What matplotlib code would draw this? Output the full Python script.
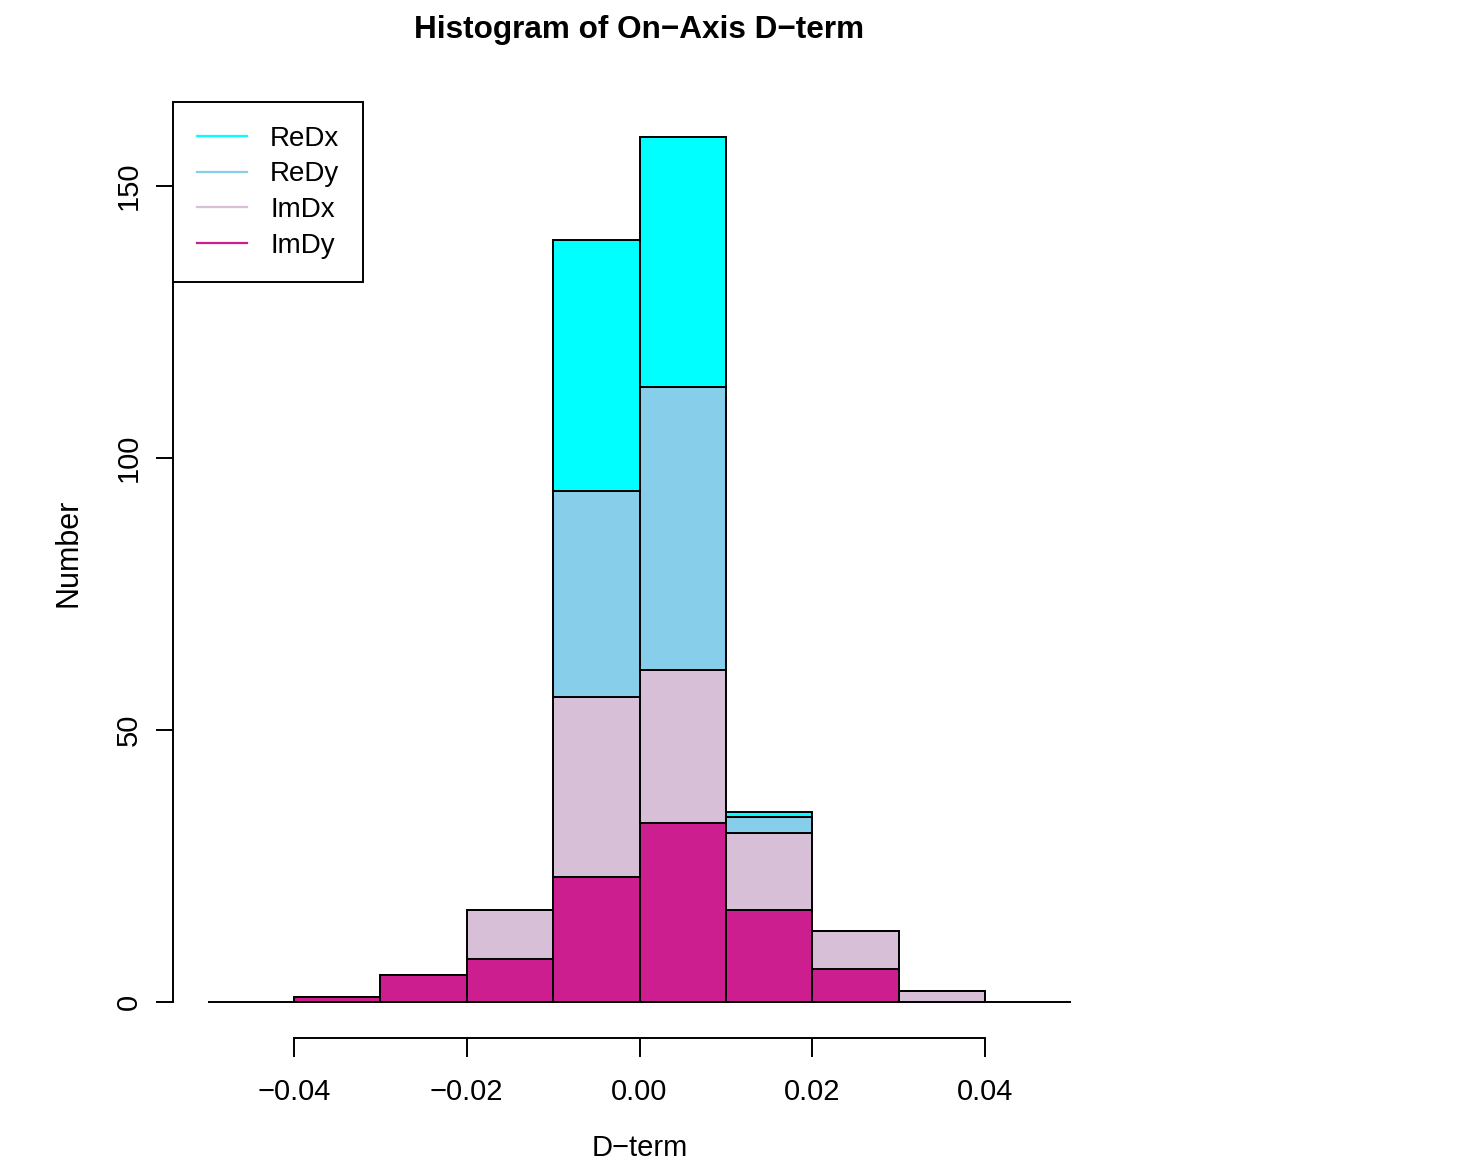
import numpy as np
import matplotlib.pyplot as plt
from matplotlib.lines import Line2D

# histogram bin edges and stacked counts per bin (D-term components)
bin_edges = np.round(np.arange(-0.04, 0.0401, 0.01), 3)
im_dy = [1, 5, 8, 23, 33, 17, 6, 0]
im_dx = [0, 0, 9, 33, 28, 14, 7, 2]
re_dy = [0, 0, 0, 38, 52, 3, 0, 0]
re_dx = [0, 0, 0, 46, 46, 1, 0, 0]

series = [("ImDy", im_dy, "#CC1E8E"),
          ("ImDx", im_dx, "#D8BFD8"),
          ("ReDy", re_dy, "#87CEEB"),
          ("ReDx", re_dx, "#00FFFF")]

xlim = (-0.05, 0.05)
ylim = (0, 165)
xticks = [-0.04, -0.02, 0.00, 0.02, 0.04]
yticks = [0, 50, 100, 150]

plt.rcParams["font.family"] = ["Liberation Sans", "DejaVu Sans"]

fig = plt.figure(figsize=(14.62, 11.70), dpi=100)
W, H = 1462, 1170
left, right, top, bottom = 173, 1106, 68.5, 1038
ax = fig.add_axes([left / W, 1 - bottom / H, (right - left) / W, (bottom - top) / H])

# R-style 4% axis padding
dx = 0.04 * (xlim[1] - xlim[0])
dy = 0.04 * (ylim[1] - ylim[0])
ax.set_xlim(xlim[0] - dx, xlim[1] + dx)
ax.set_ylim(ylim[0] - dy, ylim[1] + dy)

widths = np.diff(bin_edges)
base = np.zeros(len(widths))
for name, counts, color in series:
    counts = np.array(counts, dtype=float)
    ax.bar(bin_edges[:-1], counts, width=widths, bottom=base, align="edge",
           color=color, edgecolor="black", linewidth=1.4, zorder=3)
    base += counts

ax.hlines(0, xlim[0], xlim[1], color="black", linewidth=1.4, zorder=2)

for side in ["top", "right"]:
    ax.spines[side].set_visible(False)
ax.spines["left"].set_bounds(yticks[0], yticks[-1])
ax.spines["bottom"].set_bounds(xticks[0], xticks[-1])
for side in ["left", "bottom"]:
    ax.spines[side].set_linewidth(1.4)

ax.set_xticks(xticks)
ax.set_xticklabels([f"{t:.2f}".replace("-", "\u2212") for t in xticks], fontsize=21)
ax.set_yticks(yticks)
ax.set_yticklabels([str(t) for t in yticks], fontsize=21, rotation=90, va="center")
ax.tick_params(axis="x", length=14, width=1.4, pad=15, direction="out")
ax.tick_params(axis="y", length=12, width=1.4, pad=10, direction="out")

ax.set_xlabel("D\u2212term", fontsize=21, labelpad=20)
ax.set_ylabel("Number", fontsize=22, labelpad=22)
fig.text((left + right) / 2 / W, 1 - 30 / H, "Histogram of On\u2212Axis D\u2212term",
         ha="center", va="center", fontsize=22.7, fontweight="bold")

handles = [Line2D([], [], color=c, linewidth=1.6) for _, _, c in series[::-1]]
labels = [n for n, _, _ in series[::-1]]
leg = ax.legend(handles, labels, loc="upper left",
                bbox_to_anchor=(0, (bottom - 102) / (bottom - top)),
                borderaxespad=0, fancybox=False, framealpha=1,
                edgecolor="black", handlelength=1.8, handletextpad=0.85,
                borderpad=0.85, labelspacing=0.35,
                prop={"size": 20})
leg.get_frame().set_linewidth(1.4)
leg.set_zorder(5)

fig.savefig("out.png", dpi=100)
